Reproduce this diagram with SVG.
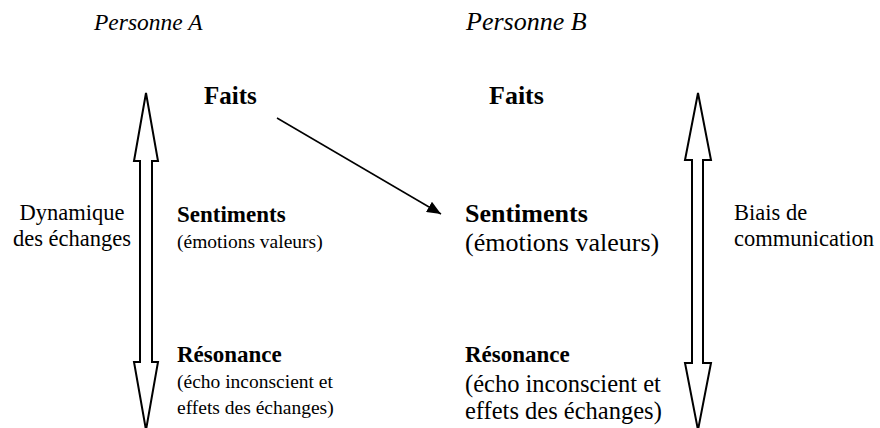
<svg xmlns="http://www.w3.org/2000/svg" width="880" height="428" viewBox="0 0 880 428">
<style>
text{font-family:'Liberation Serif','Times New Roman',serif;fill:#000}
.itA{font-style:italic;font-size:23.5px}
.itB{font-style:italic;font-size:26px}
.b{font-weight:bold;font-size:23px}
.r{font-size:19.5px}
.lab{font-size:22.5px}
.rb{font-weight:bold;font-size:26px}
.rr{font-size:24.5px}
.arr{fill:#fff;stroke:#000;stroke-width:2;stroke-linejoin:miter}
</style>
<defs>
<marker id="ah" viewBox="0 0 14 12" refX="14" refY="6" markerWidth="14" markerHeight="12" orient="auto" markerUnits="userSpaceOnUse"><path d="M0,0 L14,6 L0,12 Z" fill="#000"/></marker>
</defs>
<rect width="880" height="428" fill="#fff"/>
<g id="headA"><text class="itA" x="94" y="30">Personne A</text></g>
<g id="headB"><text class="itB" x="466" y="30">Personne B</text></g>
<g id="arrowA"><path class="arr" d="M146,93 L158,161 L152,161 L152,362 L158,362 L146,430 L134,362 L140,362 L140,161 L134,161 Z"/></g>
<g id="arrowB"><path class="arr" d="M698,93 L711,160 L703,160 L703,363 L711,363 L698,430 L685,363 L692,363 L692,160 L685,160 Z"/></g>
<g id="labelA"><text class="lab" x="72" y="220" text-anchor="middle">Dynamique</text><text class="lab" x="72" y="246" text-anchor="middle">des échanges</text></g>
<g id="labelB"><text class="lab" x="734" y="220">Biais de</text><text class="lab" x="734" y="246">communication</text></g>
<g id="faitsA"><text class="b" x="204" y="104" style="font-size:25px">Faits</text></g>
<g id="faitsB"><text class="rb" x="489" y="104">Faits</text></g>
<g id="sentA"><text class="b" x="177" y="222">Sentiments</text><text class="r" x="177" y="248">(émotions valeurs)</text></g>
<g id="sentB"><text class="rb" x="465" y="222">Sentiments</text><text class="rr" x="465" y="251" style="font-size:26px">(émotions valeurs)</text></g>
<g id="resA"><text class="b" x="177" y="362">Résonance</text><text class="r" x="177" y="388">(écho inconscient et</text><text class="r" x="177" y="414">effets des échanges)</text></g>
<g id="resB"><text class="rb" x="465" y="362" style="font-size:23px">Résonance</text><text class="rr" x="465" y="392">(écho inconscient et</text><text class="rr" x="465" y="419">effets des échanges)</text></g>
<g id="connectors"><line x1="277" y1="118" x2="441" y2="214" stroke="#000" stroke-width="1.5" marker-end="url(#ah)"/></g>
</svg>
